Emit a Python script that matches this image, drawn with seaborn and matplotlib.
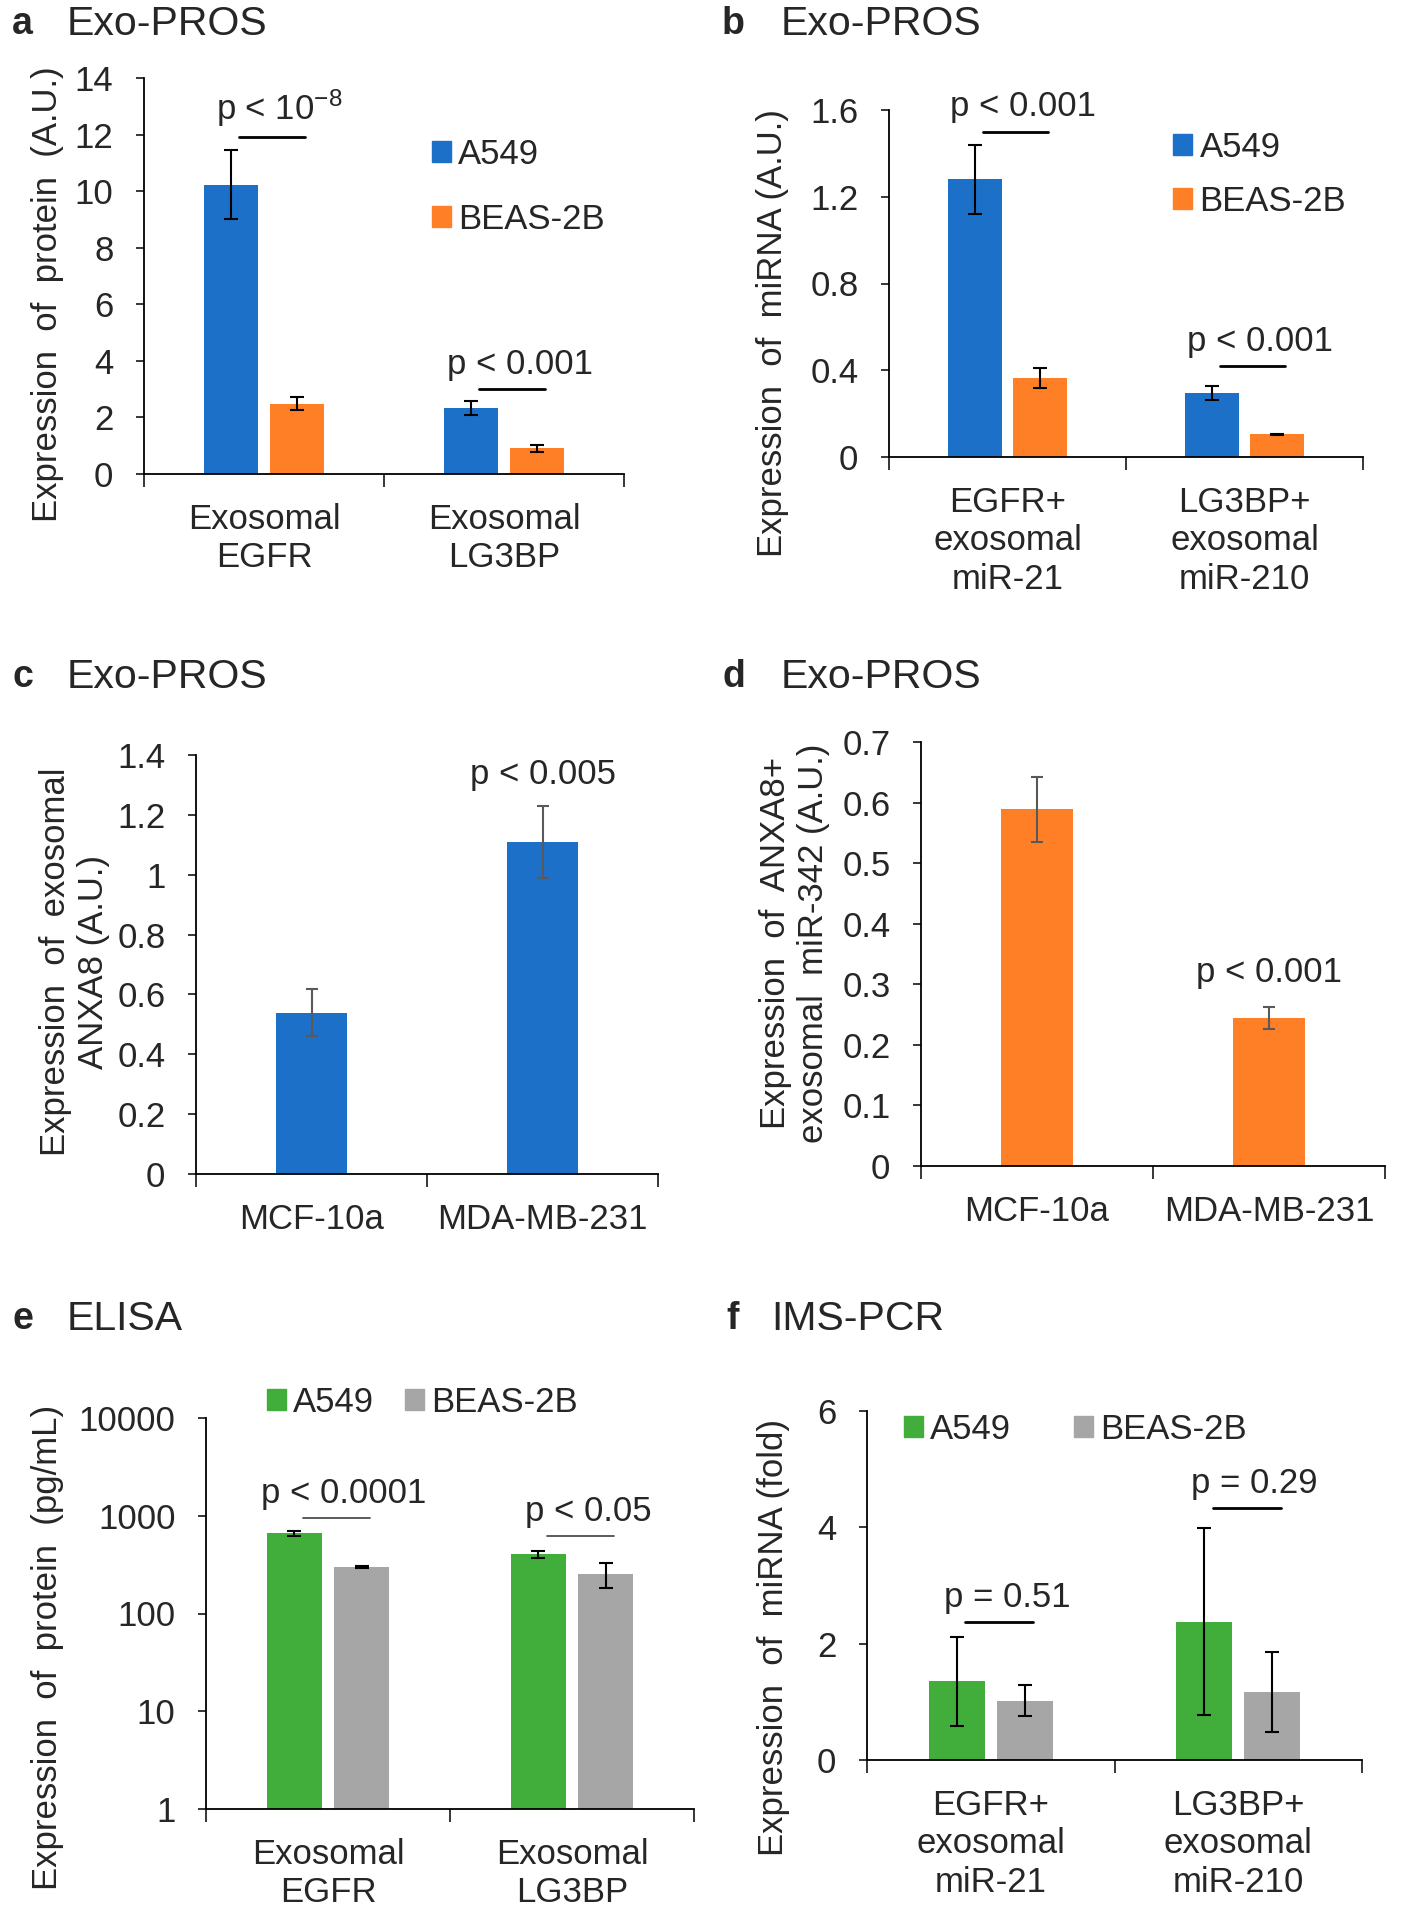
import numpy as np
import pandas as pd
import matplotlib.pyplot as plt
import matplotlib.ticker as mticker
import matplotlib.patches as mpatches
import seaborn as sns

# ---------------- data ----------------
cells = ['A549', 'BEAS-2B']

# a: Exo-PROS protein
a_groups = ['Exosomal\nEGFR', 'Exosomal\nLG3BP']
a_a549 = [10.22, 2.34]
a_a549_err = [1.22, 0.24]
a_beas = [2.49, 0.91]
a_beas_err = [0.22, 0.12]
a_ptext = ['p < 10$^{-8}$', 'p < 0.001']
a_pline = [11.9, 3.0]
a_yticks = [0, 2, 4, 6, 8, 10, 12, 14]

# b: Exo-PROS miRNA
b_groups = ['EGFR+\nexosomal\nmiR-21', 'LG3BP+\nexosomal\nmiR-210']
b_a549 = [1.28, 0.294]
b_a549_err = [0.16, 0.032]
b_beas = [0.363, 0.104]
b_beas_err = [0.047, 0.004]
b_ptext = ['p < 0.001', 'p < 0.001']
b_pline = [1.50, 0.42]
b_yticks = [0, 0.4, 0.8, 1.2, 1.6]

# c: exosomal ANXA8
c_groups = ['MCF-10a', 'MDA-MB-231']
c_vals = [0.539, 1.11]
c_err = [0.078, 0.12]
c_ptext = 'p < 0.005'
c_py = 1.28
c_yticks = [0, 0.2, 0.4, 0.6, 0.8, 1, 1.2, 1.4]

# d: ANXA8+ exosomal miR-342
d_groups = ['MCF-10a', 'MDA-MB-231']
d_vals = [0.589, 0.245]
d_err = [0.054, 0.018]
d_ptext = 'p < 0.001'
d_py = 0.293
d_yticks = [0, 0.1, 0.2, 0.3, 0.4, 0.5, 0.6, 0.7]

# e: ELISA
e_groups = ['Exosomal\nEGFR', 'Exosomal\nLG3BP']
e_a549 = [664, 405]
e_a549_err = [41, 35]
e_beas = [299, 256]
e_beas_err = [5, 72]
e_ptext = ['p < 0.0001', 'p < 0.05']
e_pline = [944, 617]
e_yticks = [1, 10, 100, 1000, 10000]

# f: IMS-PCR
f_groups = ['EGFR+\nexosomal\nmiR-21', 'LG3BP+\nexosomal\nmiR-210']
f_a549 = [1.35, 2.38]
f_a549_err = [0.765, 1.6]
f_beas = [1.02, 1.17]
f_beas_err = [0.27, 0.69]
f_ptext = ['p = 0.51', 'p = 0.29']
f_pline = [2.37, 4.33]
f_yticks = [0, 2, 4, 6]

# ---------------- style ----------------
sns.set_theme(style='ticks')
plt.rcParams['font.family'] = ['Liberation Sans', 'DejaVu Sans']
plt.rcParams['mathtext.default'] = 'regular'
plt.rcParams['axes.linewidth'] = 1.3
plt.rcParams['axes.edgecolor'] = 'black'

FS = 25
blue, orange = '#1C70C8', '#FF7F27'
green, gray = '#41AE3B', '#A6A6A6'

W, H = 1407, 1920
fig = plt.figure(figsize=(W / 100, H / 100), dpi=100)


def add_axes(l, r, t, b):
    return fig.add_axes([l / W, 1 - b / H, (r - l) / W, (b - t) / H])


def grouped(ax, groups, v1, e1, v2, e2, colors, ecolor='black'):
    df = pd.DataFrame({'group': groups + groups,
                       'cell': [cells[0]] * len(groups) + [cells[1]] * len(groups),
                       'value': v1 + v2})
    sns.barplot(data=df, x='group', y='value', hue='cell', order=groups, hue_order=cells,
                palette=colors, width=0.55, gap=0.18, errorbar=None, saturation=1,
                linewidth=0, legend=False, ax=ax)
    centers = []
    for cont, vals, err in zip(ax.containers, [v1, v2], [e1, e2]):
        xs = [p.get_x() + p.get_width() / 2 for p in cont]
        ax.errorbar(xs, vals, yerr=err, fmt='none', ecolor=ecolor, elinewidth=1.5,
                    capsize=5, capthick=1.5)
        centers.append(xs)
    return centers


def single(ax, groups, vals, err, color):
    sns.barplot(x=groups, y=vals, color=color, width=0.31, errorbar=None, saturation=1,
                linewidth=0, ax=ax)
    xs = [p.get_x() + p.get_width() / 2 for p in ax.containers[0]]
    ax.errorbar(xs, vals, yerr=err, fmt='none', ecolor='#595959', elinewidth=1.5,
                capsize=4, capthick=1.5)
    return xs


def pbars(ax, centers, ptext, plines, lw=2.0, lc='black'):
    for i in range(len(ptext)):
        x1, x2 = centers[0][i] + 0.035, centers[1][i] + 0.035
        ax.plot([x1, x2], [plines[i], plines[i]], color=lc, lw=lw)
        ax.annotate(ptext[i], xy=((x1 + x2) / 2 + 0.03, plines[i]), xytext=(0, 6),
                    textcoords='offset points', ha='center', va='bottom', fontsize=FS)


def finish(ax, yticks, ylabel, lab_x, lab_y, log=False):
    sns.despine(ax=ax)
    ax.set_xlim(-0.5, 1.5)
    if log:
        ax.set_yscale('log')
        ax.yaxis.set_minor_locator(mticker.NullLocator())
    ax.set_ylim(yticks[0], yticks[-1])
    ax.yaxis.set_major_locator(mticker.FixedLocator(yticks))
    ax.yaxis.set_major_formatter(mticker.FuncFormatter(lambda v, p: f'{v:g}'))
    ax.set_xticks([-0.5, 0.5, 1.5], minor=True)
    ax.tick_params(axis='x', which='major', length=0, pad=21, labelsize=FS)
    ax.tick_params(axis='x', which='minor', length=9, width=1.3, direction='out')
    ax.tick_params(axis='y', which='major', length=6, width=1.3, pad=16, labelsize=FS)
    ax.set_xlabel('')
    ax.set_ylabel(ylabel, fontsize=FS)
    ax.yaxis.set_label_coords(lab_x, lab_y)
    for t in ax.get_xticklabels():
        t.set_linespacing(1.2)


def legend(ax, colors, loc_xy, ncol=1, spacing=0.9, colspace=1.0):
    handles = [mpatches.Patch(color=c, label=l) for c, l in zip(colors, cells)]
    ax.legend(handles=handles, loc='center left', bbox_to_anchor=loc_xy, ncol=ncol,
              frameon=False, fontsize=FS, handlelength=0.55, handleheight=0.55,
              handletextpad=0.2, labelspacing=spacing, columnspacing=colspace,
              borderpad=0, borderaxespad=0)


# ---------------- panel a ----------------
ax = add_axes(144, 624, 78, 474)
cen = grouped(ax, a_groups, a_a549, a_a549_err, a_beas, a_beas_err, [blue, orange])
pbars(ax, cen, a_ptext, a_pline)
finish(ax, a_yticks, 'Expression  of  protein  (A.U.)', -0.167, 0.455)
legend(ax, [blue, orange], (0.6, 0.725), spacing=0.93)

# ---------------- panel b ----------------
ax = add_axes(889, 1363, 110, 457)
cen = grouped(ax, b_groups, b_a549, b_a549_err, b_beas, b_beas_err, [blue, orange])
pbars(ax, cen, b_ptext, b_pline)
finish(ax, b_yticks, 'Expression  of  miRNA (A.U.)', -0.211, 0.357)
legend(ax, [blue, orange], (0.6, 0.814), spacing=0.6)

# ---------------- panel c ----------------
ax = add_axes(196, 658, 755, 1174)
xs = single(ax, c_groups, c_vals, c_err, blue)
ax.text(xs[1], c_py, c_ptext, ha='center', va='bottom', fontsize=FS)
finish(ax, c_yticks, 'Expression  of  exosomal\nANXA8 (A.U.)', -0.186, 0.506)

# ---------------- panel d ----------------
ax = add_axes(921, 1385, 742, 1166)
xs = single(ax, d_groups, d_vals, d_err, orange)
ax.text(xs[1], d_py, d_ptext, ha='center', va='bottom', fontsize=FS)
finish(ax, d_yticks, 'Expression  of  ANXA8+\nexosomal  miR-342 (A.U.)', -0.196, 0.526)

# ---------------- panel e ----------------
ax = add_axes(206, 694, 1418, 1809)
cen = grouped(ax, e_groups, e_a549, e_a549_err, e_beas, e_beas_err, [green, gray])
finish(ax, e_yticks, 'Expression  of  protein  (pg/mL)', -0.291, 0.414, log=True)
pbars(ax, cen, e_ptext, e_pline, lw=1.2, lc='#404040')
legend(ax, [green, gray], (0.125, 1.04), ncol=2, colspace=0.9)

# ---------------- panel f ----------------
ax = add_axes(867, 1362, 1411, 1760)
cen = grouped(ax, f_groups, f_a549, f_a549_err, f_beas, f_beas_err, [green, gray])
pbars(ax, cen, f_ptext, f_pline)
finish(ax, f_yticks, 'Expression  of  miRNA (fold)', -0.156, 0.352)
legend(ax, [green, gray], (0.075, 0.948), ncol=2, colspace=1.8)

# ---------------- panel titles ----------------
titles = [('a', 'Exo-PROS', 12, 67, 24), ('b', 'Exo-PROS', 722, 781, 24),
          ('c', 'Exo-PROS', 12, 67, 677), ('d', 'Exo-PROS', 722, 781, 677),
          ('e', 'ELISA', 12, 67, 1319), ('f', 'IMS-PCR', 726, 771, 1319)]
for letter, name, lx, tx, ty in titles:
    fig.text(lx / W, 1 - ty / H, letter, fontsize=27, fontweight='bold', ha='left', va='center')
    fig.text(tx / W, 1 - ty / H, name, fontsize=29.5, ha='left', va='center')

fig.savefig('out.png', dpi=100)
